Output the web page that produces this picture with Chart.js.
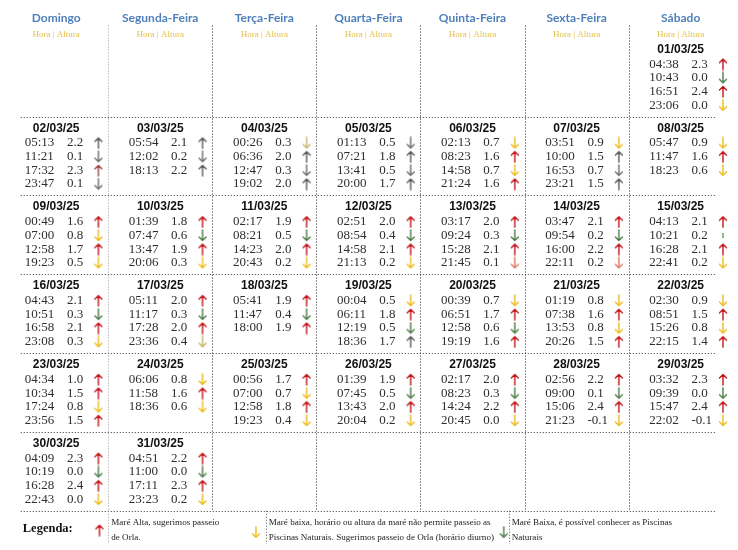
<!DOCTYPE html>
<html lang="pt-BR">
<head>
<meta charset="utf-8">
<title>Tábua de marés - Março 2025</title>
<script src="https://cdn.jsdelivr.net/npm/chart.js@4.4.1/dist/chart.umd.min.js"></script>
<style>
    html, body { margin: 0; padding: 0; background: #fff; }
    canvas { display: block; }
</style>
</head>
<body>
<canvas id="tabua-mares" width="738" height="550"></canvas>
<script>
/* ------------------------- DADOS ------------------------------------ */

const diasSemana = ['Domingo', 'Segunda-Feira', 'Terça-Feira', 'Quarta-Feira', 'Quinta-Feira', 'Sexta-Feira', 'Sábado'];

const datas = [
    '01/03/25', '02/03/25', '03/03/25', '04/03/25', '05/03/25', '06/03/25', '07/03/25', '08/03/25',
    '09/03/25', '10/03/25', '11/03/25', '12/03/25', '13/03/25', '14/03/25', '15/03/25', '16/03/25',
    '17/03/25', '18/03/25', '19/03/25', '20/03/25', '21/03/25', '22/03/25', '23/03/25', '24/03/25',
    '25/03/25', '26/03/25', '27/03/25', '28/03/25', '29/03/25', '30/03/25', '31/03/25'
];

const horas = [
    ['04:38', '10:43', '16:51', '23:06'],
    ['05:13', '11:21', '17:32', '23:47'],
    ['05:54', '12:02', '18:13'],
    ['00:26', '06:36', '12:47', '19:02'],
    ['01:13', '07:21', '13:41', '20:00'],
    ['02:13', '08:23', '14:58', '21:24'],
    ['03:51', '10:00', '16:53', '23:21'],
    ['05:47', '11:47', '18:23'],
    ['00:49', '07:00', '12:58', '19:23'],
    ['01:39', '07:47', '13:47', '20:06'],
    ['02:17', '08:21', '14:23', '20:43'],
    ['02:51', '08:54', '14:58', '21:13'],
    ['03:17', '09:24', '15:28', '21:45'],
    ['03:47', '09:54', '16:00', '22:11'],
    ['04:13', '10:21', '16:28', '22:41'],
    ['04:43', '10:51', '16:58', '23:08'],
    ['05:11', '11:17', '17:28', '23:36'],
    ['05:41', '11:47', '18:00'],
    ['00:04', '06:11', '12:19', '18:36'],
    ['00:39', '06:51', '12:58', '19:19'],
    ['01:19', '07:38', '13:53', '20:26'],
    ['02:30', '08:51', '15:26', '22:15'],
    ['04:34', '10:34', '17:24', '23:56'],
    ['06:06', '11:58', '18:36'],
    ['00:56', '07:00', '12:58', '19:23'],
    ['01:39', '07:45', '13:43', '20:04'],
    ['02:17', '08:23', '14:24', '20:45'],
    ['02:56', '09:00', '15:06', '21:23'],
    ['03:32', '09:39', '15:47', '22:02'],
    ['04:09', '10:19', '16:28', '22:43'],
    ['04:51', '11:00', '17:11', '23:23']
];

const alturas = [
    [2.3, 0.0, 2.4, 0.0],
    [2.2, 0.1, 2.3, 0.1],
    [2.1, 0.2, 2.2],
    [0.3, 2.0, 0.3, 2.0],
    [0.5, 1.8, 0.5, 1.7],
    [0.7, 1.6, 0.7, 1.6],
    [0.9, 1.5, 0.7, 1.5],
    [0.9, 1.6, 0.6],
    [1.6, 0.8, 1.7, 0.5],
    [1.8, 0.6, 1.9, 0.3],
    [1.9, 0.5, 2.0, 0.2],
    [2.0, 0.4, 2.1, 0.2],
    [2.0, 0.3, 2.1, 0.1],
    [2.1, 0.2, 2.2, 0.2],
    [2.1, 0.2, 2.1, 0.2],
    [2.1, 0.3, 2.1, 0.3],
    [2.0, 0.3, 2.0, 0.4],
    [1.9, 0.4, 1.9],
    [0.5, 1.8, 0.5, 1.7],
    [0.7, 1.7, 0.6, 1.6],
    [0.8, 1.6, 0.8, 1.5],
    [0.9, 1.5, 0.8, 1.4],
    [1.0, 1.5, 0.8, 1.5],
    [0.8, 1.6, 0.6],
    [1.7, 0.7, 1.8, 0.4],
    [1.9, 0.5, 2.0, 0.2],
    [2.0, 0.3, 2.2, 0.0],
    [2.2, 0.1, 2.4, -0.1],
    [2.3, 0.0, 2.4, -0.1],
    [2.3, 0.0, 2.4, 0.0],
    [2.2, 0.0, 2.3, 0.2]
];

// R = alta (vermelho), Y = baixa (amarelo), G = baixa piscinas (verde)
// U/D = cinza cima/baixo, r/y/o = tons apagados, g = traço verde
const setas = [
    'RGRY', 'UDrD', 'UDU', 'yUDU', 'DUDU', 'YRYR', 'YUDU', 'YRY',
    'RYRY', 'RGRY', 'RGRY', 'RGRY', 'RGRo', 'RGRo', 'RgRY', 'RGRY',
    'RGRy', 'RGR', 'YRGU', 'YRGR', 'YRYR', 'YRYR', 'RRYR', 'YRY',
    'RYRY', 'RGRY', 'RGRY', 'RGRY', 'RGRY', 'RGRY', 'RGRY'
];

const legendaSetas = ['R', 'Y', 'G'];
const legendaTextos = [
    ['Maré Alta, sugerimos passeio', 'de Orla.'],
    ['Maré baixa, horário ou altura da maré não permite passeio as', 'Piscinas Naturais. Sugerimos passeio de Orla (horário diurno)'],
    ['Maré Baixa, é possível conhecer as Piscinas', 'Naturais']
];

// 01/03/25 cai num sábado
const colunaInicial = 6;

/* ------------------------- SETAS ------------------------------------ */

const coresSetas = {
    R: ['#c3161c', 'cima'], r: ['#9b4a40', 'cima'], U: ['#5c5c5c', 'cima'],
    Y: ['#efbb1c', 'baixo'], y: ['#c9b36a', 'baixo'], G: ['#4f7b4a', 'baixo'],
    D: ['#6e6e6e', 'baixo'], o: ['#dc7a62', 'baixo'], g: ['#5f9a55', 'traco']
};

function criarSeta(cor, direcao) {
    const c = document.createElement('canvas');
    c.width = 10;
    c.height = 13;
    const g = c.getContext('2d');
    g.strokeStyle = cor;
    g.lineWidth = 1.4;
    g.lineCap = 'round';
    g.lineJoin = 'round';
    g.beginPath();
    if (direcao === 'traco') {
        g.moveTo(5, 4.5); g.lineTo(5, 8.5);
    } else if (direcao === 'cima') {
        g.moveTo(5, 12); g.lineTo(5, 1.5);
        g.moveTo(1.5, 5); g.lineTo(5, 1.5); g.lineTo(8.5, 5);
    } else {
        g.moveTo(5, 1); g.lineTo(5, 11.5);
        g.moveTo(1.5, 8); g.lineTo(5, 11.5); g.lineTo(8.5, 8);
    }
    g.stroke();
    return c;
}

const imagensSetas = {};
Object.keys(coresSetas).forEach(k => {
    imagensSetas[k] = criarSeta(coresSetas[k][0], coresSetas[k][1]);
});

/* ------------------------- PONTOS ------------------------------------ */

// escala x = coluna (dia da semana), escala y = semana
const LINHA_DATA = 0.149;
const LINHA_0 = 0.335;
const PASSO_LINHA = 0.1737;

const pontos = [];
const codigos = [];
const colunasPonto = [];
const textosHora = [];
const textosAltura = [];

datas.forEach((d, i) => {
    const pos = i + colunaInicial;
    const col = pos % 7;
    const sem = Math.floor(pos / 7);
    horas[i].forEach((h, j) => {
        pontos.push({ x: col + 0.406, y: sem + LINHA_0 + PASSO_LINHA * j });
        codigos.push(setas[i][j]);
        colunasPonto.push(col);
        textosHora.push(h);
        textosAltura.push(alturas[i][j].toFixed(1));
    });
});

/* ------------------------- DESENHO ------------------------------------ */

function linhaPontilhada(ctx, x1, y1, x2, y2, cor) {
    ctx.strokeStyle = cor;
    ctx.beginPath();
    ctx.moveTo(x1, y1);
    ctx.lineTo(x2, y2);
    ctx.stroke();
}

const desenhoTabua = {
    id: 'desenhoTabua',
    beforeDraw(chart) {
        const { ctx, width, height } = chart;
        ctx.save();
        ctx.fillStyle = '#fff';
        ctx.fillRect(0, 0, width, height);
        ctx.restore();
    },
    beforeDatasetsDraw(chart) {
        const { ctx, scales: { x, y } } = chart;
        ctx.save();
        ctx.lineWidth = 1;
        ctx.setLineDash([1, 2]);

        // linhas entre semanas
        const xi = x.getPixelForValue(-0.34);
        const xf = x.getPixelForValue(6.34);
        for (let s = 1; s <= 6; s++) {
            const py = Math.round(y.getPixelForValue(s)) + 0.5;
            linhaPontilhada(ctx, xi, py, xf, py, '#333');
        }

        // divisões entre os dias
        const yi = y.getPixelForValue(-0.154);
        const yf = y.getPixelForValue(6);
        for (let c = 0; c < 6; c++) {
            const px = Math.round(x.getPixelForValue(c + 0.5)) + 0.5;
            linhaPontilhada(ctx, px, yi, px, yf, c === 0 ? '#999' : '#222');
        }

        // divisões da legenda
        [0.5, 2.013, 4.348].forEach((v, k) => {
            const px = Math.round(x.getPixelForValue(v)) + 0.5;
            linhaPontilhada(ctx, px, yf, px, y.getPixelForValue(6.422), k === 0 ? '#999' : '#555');
        });
        ctx.restore();
    },
    afterDatasetsDraw(chart) {
        const { ctx, scales: { x, y } } = chart;
        ctx.save();
        ctx.textBaseline = 'middle';

        // cabeçalho
        ctx.textAlign = 'center';
        diasSemana.forEach((nome, c) => {
            ctx.font = 'bold 12px Lato';
            ctx.fillStyle = '#4f7fba';
            ctx.fillText(nome, x.getPixelForValue(c), y.getPixelForValue(-0.253));
            ctx.font = '9px "Liberation Serif"';
            ctx.fillStyle = '#e6bf45';
            ctx.fillText('Hora | Altura', x.getPixelForValue(c), y.getPixelForValue(-0.042));
        });

        // datas
        ctx.font = 'bold 12px "Liberation Sans"';
        ctx.fillStyle = '#111';
        datas.forEach((d, i) => {
            const pos = i + colunaInicial;
            ctx.fillText(d, x.getPixelForValue(pos % 7), y.getPixelForValue(Math.floor(pos / 7) + LINHA_DATA));
        });

        // hora e altura
        ctx.textAlign = 'left';
        ctx.font = '13px "Liberation Serif"';
        ctx.fillStyle = '#2e2e2e';
        const meta = chart.getDatasetMeta(0);
        meta.data.forEach((pt, i) => {
            const c = colunasPonto[i];
            ctx.fillText(textosHora[i], x.getPixelForValue(c - 0.302), pt.y);
            ctx.fillText(textosAltura[i], x.getPixelForValue(c + 0.104), pt.y);
        });

        // legenda
        ctx.font = 'bold 12.5px "Liberation Serif"';
        ctx.fillStyle = '#111';
        ctx.fillText('Legenda:', x.getPixelForValue(-0.321), y.getPixelForValue(6.235));

        const setaX = [0.416, 1.919, 4.300];
        const setaY = [6.247, 6.273, 6.273];
        const textoX = [0.529, 2.042, 4.376];
        ctx.font = '9.1px "Liberation Serif"';
        ctx.fillStyle = '#222';
        legendaSetas.forEach((k, n) => {
            const img = imagensSetas[k];
            ctx.drawImage(img, x.getPixelForValue(setaX[n]) - img.width / 2, y.getPixelForValue(setaY[n]) - img.height / 2);
            legendaTextos[n].forEach((t, l) => {
                ctx.fillText(t, x.getPixelForValue(textoX[n]), y.getPixelForValue(6.149 + 0.186 * l));
            });
        });
        ctx.restore();
    }
};

new Chart(document.getElementById('tabua-mares'), {
    type: 'scatter',
    data: {
        datasets: [{
            label: 'Marés',
            data: pontos,
            pointStyle: (ctx) => imagensSetas[codigos[ctx.dataIndex]],
            pointRadius: 5,
            showLine: false
        }]
    },
    options: {
        responsive: false,
        animation: false,
        events: [],
        layout: { padding: 0 },
        plugins: {
            legend: { display: false },
            tooltip: { enabled: false }
        },
        scales: {
            x: { type: 'linear', display: false, min: -0.482, max: 6.493 },
            y: { type: 'linear', display: false, reverse: true, min: -0.402, max: 6.422 }
        }
    },
    plugins: [desenhoTabua]
});
</script>
</body>
</html>
